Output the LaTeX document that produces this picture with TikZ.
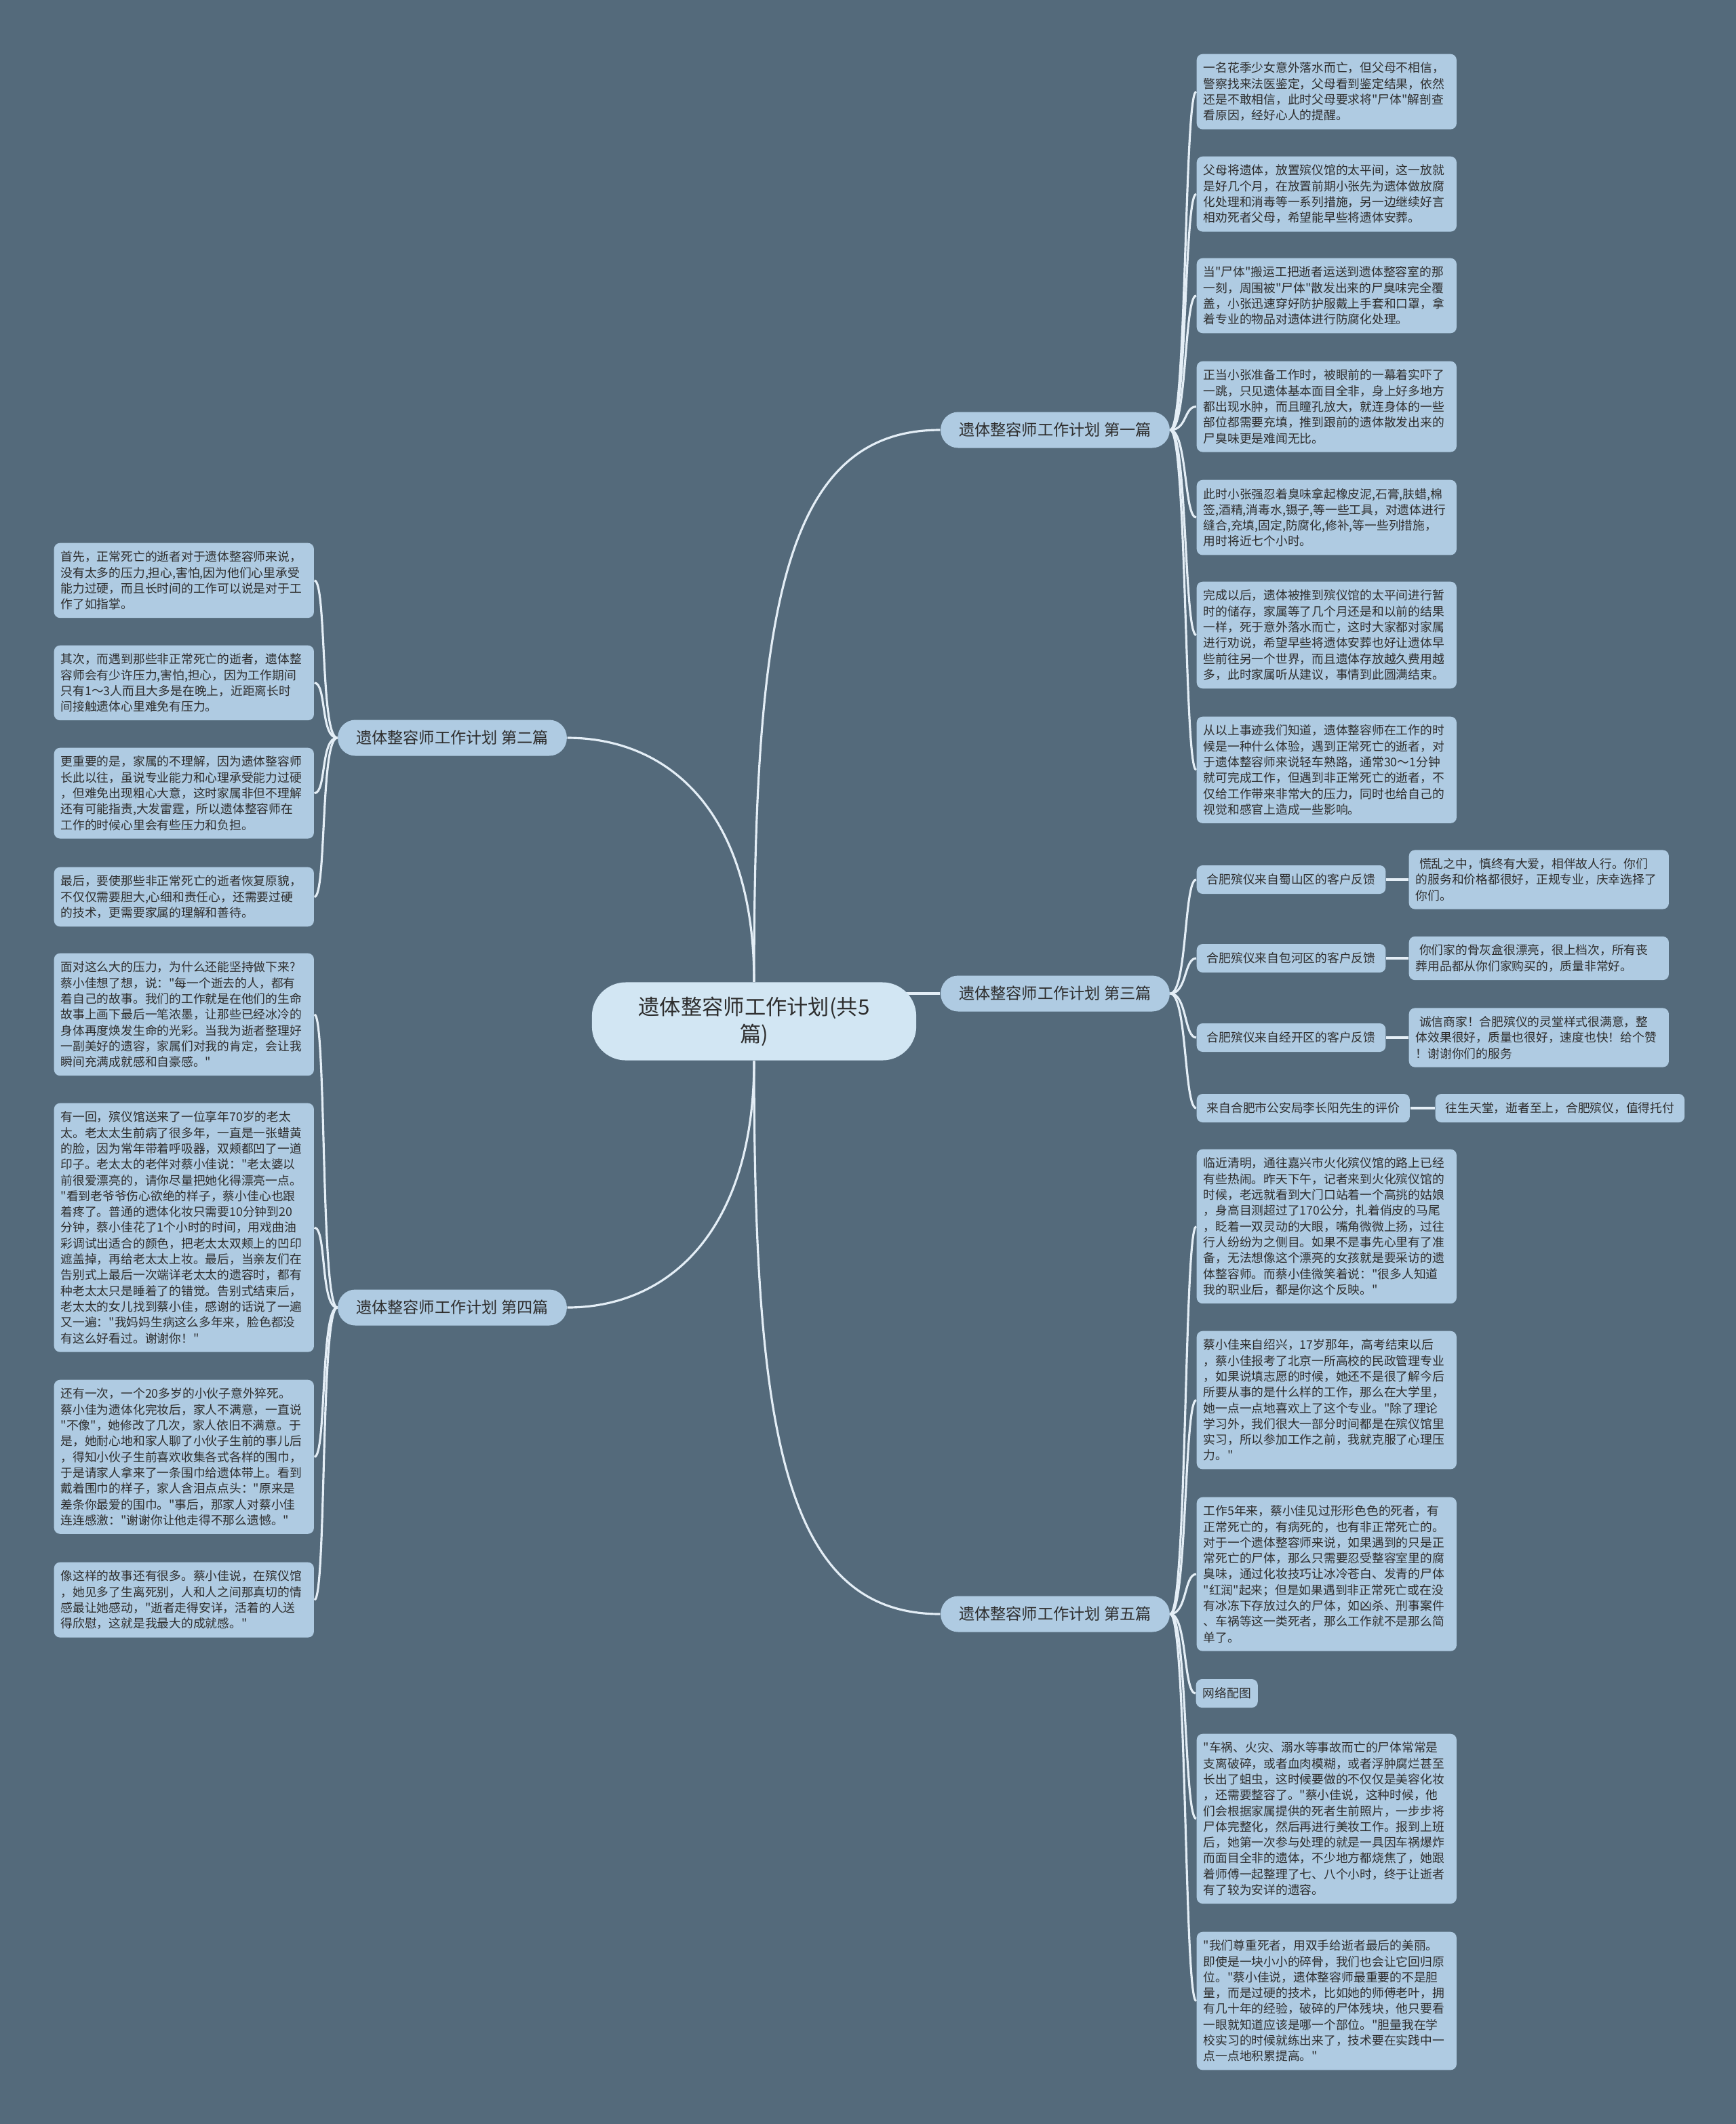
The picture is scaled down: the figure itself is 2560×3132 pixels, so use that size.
\documentclass[tikz,border=0pt]{standalone}
\usepackage{fontspec}
\setmainfont{Noto Sans CJK SC}[Ligatures=TeXOff]
\usepackage{tikz}
\usetikzlibrary{positioning, backgrounds}
\definecolor{slate}{HTML}{546A7B}
\definecolor{leaf}{HTML}{AFCBE2}
\definecolor{core}{HTML}{D2E6F3}
\definecolor{wire}{HTML}{E4EEF6}
\definecolor{ink}{HTML}{2E2E2E}

\begin{document}
\begin{tikzpicture}[x=0.01cm, y=-0.01cm,
    root/.style={rectangle, rounded corners=0.5cm, fill=core, text=ink,
                 font=\fontsize{8.9}{11.3}\selectfont, minimum width=4.78cm,
                 minimum height=1.15cm, align=center},
    topic/.style={rectangle, rounded corners=0.26cm, fill=leaf, text=ink,
                  font=\fontsize{6.6}{8}\selectfont, minimum height=0.53cm, inner xsep=0.27cm},
    note/.style={rectangle, rounded corners=2.5pt, fill=leaf, text=ink,
                 font=\fontsize{5.05}{6.63}\selectfont, text width=3.63cm,
                 inner xsep=0.1cm, inner ysep=0.12cm, align=left, anchor=north west},
    tag/.style={rectangle, rounded corners=2.5pt, fill=leaf, text=ink,
                font=\fontsize{5.05}{6.63}\selectfont, inner xsep=0.15cm,
                minimum height=0.42cm, anchor=west},
    link/.style={draw=wire, line width=0.9pt}
]
\useasboundingbox (0,0) rectangle (2560,3132);

\node[root] (root) at (1112,1506) {遗体整容师工作计划(共5\\篇)};

\node[topic] (p1) at (1556,634) {遗体整容师工作计划 第一篇};
\node[topic] (p2) at (667,1088) {遗体整容师工作计划 第二篇};
\node[topic] (p3) at (1556,1465) {遗体整容师工作计划 第三篇};
\node[topic] (p4) at (667,1928) {遗体整容师工作计划 第四篇};
\node[topic] (p5) at (1556,2380) {遗体整容师工作计划 第五篇};

% 第一篇
\node[note] (p1a) at (1764,79) {一名花季少女意外落水而亡，但父母不相信，\\警察找来法医鉴定，父母看到鉴定结果，依然\\还是不敢相信，此时父母要求将"尸体"解剖查\\看原因，经好心人的提醒。};
\node[note] (p1b) at (1764,230) {父母将遗体，放置殡仪馆的太平间，这一放就\\是好几个月，在放置前期小张先为遗体做放腐\\化处理和消毒等一系列措施，另一边继续好言\\相劝死者父母，希望能早些将遗体安葬。};
\node[note] (p1c) at (1764,380) {当"尸体"搬运工把逝者运送到遗体整容室的那\\一刻，周围被"尸体"散发出来的尸臭味完全覆\\盖，小张迅速穿好防护服戴上手套和口罩，拿\\着专业的物品对遗体进行防腐化处理。};
\node[note] (p1d) at (1764,532) {正当小张准备工作时，被眼前的一幕着实吓了\\一跳，只见遗体基本面目全非，身上好多地方\\都出现水肿，而且瞳孔放大，就连身体的一些\\部位都需要充填，推到跟前的遗体散发出来的\\尸臭味更是难闻无比。};
\node[note] (p1e) at (1764,707) {此时小张强忍着臭味拿起橡皮泥,石膏,肤蜡,棉\\签,酒精,消毒水,镊子,等一些工具，对遗体进行\\缝合,充填,固定,防腐化,修补,等一些列措施，\\用时将近七个小时。};
\node[note] (p1f) at (1764,857) {完成以后，遗体被推到殡仪馆的太平间进行暂\\时的储存，家属等了几个月还是和以前的结果\\一样，死于意外落水而亡，这时大家都对家属\\进行劝说，希望早些将遗体安葬也好让遗体早\\些前往另一个世界，而且遗体存放越久费用越\\多，此时家属听从建议，事情到此圆满结束。};
\node[note] (p1g) at (1764,1056) {从以上事迹我们知道，遗体整容师在工作的时\\候是一种什么体验，遇到正常死亡的逝者，对\\于遗体整容师来说轻车熟路，通常30～1分钟\\就可完成工作，但遇到非正常死亡的逝者，不\\仅给工作带来非常大的压力，同时也给自己的\\视觉和感官上造成一些影响。};

% 第二篇
\node[note] (p2a) at (79,800) {首先，正常死亡的逝者对于遗体整容师来说，\\没有太多的压力,担心,害怕,因为他们心里承受\\能力过硬，而且长时间的工作可以说是对于工\\作了如指掌。};
\node[note] (p2b) at (79,951) {其次，而遇到那些非正常死亡的逝者，遗体整\\容师会有少许压力,害怕,担心，因为工作期间\\只有1～3人而且大多是在晚上，近距离长时\\间接触遗体心里难免有压力。};
\node[note] (p2c) at (79,1102) {更重要的是，家属的不理解，因为遗体整容师\\长此以往，虽说专业能力和心理承受能力过硬\\，但难免出现粗心大意，这时家属非但不理解\\还有可能指责,大发雷霆，所以遗体整容师在\\工作的时候心里会有些压力和负担。};
\node[note] (p2d) at (79,1278) {最后，要使那些非正常死亡的逝者恢复原貌，\\不仅仅需要胆大,心细和责任心，还需要过硬\\的技术，更需要家属的理解和善待。};

% 第三篇
\node[tag] (fb1) at (1764,1297) {合肥殡仪来自蜀山区的客户反馈};
\node[tag] (fb2) at (1764,1413) {合肥殡仪来自包河区的客户反馈};
\node[tag] (fb3) at (1764,1530) {合肥殡仪来自经开区的客户反馈};
\node[tag] (fb4) at (1764,1634) {来自合肥市公安局李长阳先生的评价};
\node[note, anchor=west] (fr1) at (2077,1297) {\hspace*{0.3em}慌乱之中，慎终有大爱，相伴故人行。你们\\的服务和价格都很好，正规专业，庆幸选择了\\你们。};
\node[note, anchor=west] (fr2) at (2077,1413) {\hspace*{0.3em}你们家的骨灰盒很漂亮，很上档次，所有丧\\葬用品都从你们家购买的，质量非常好。};
\node[note, anchor=west] (fr3) at (2077,1530) {\hspace*{0.3em}诚信商家！合肥殡仪的灵堂样式很满意，整\\体效果很好，质量也很好，速度也快！给个赞\\！谢谢你们的服务};
\node[tag] (fr4) at (2116,1634) {往生天堂，逝者至上，合肥殡仪，值得托付};

% 第四篇
\node[note] (p4a) at (79,1405) {面对这么大的压力，为什么还能坚持做下来?\\蔡小佳想了想，说："每一个逝去的人，都有\\着自己的故事。我们的工作就是在他们的生命\\故事上画下最后一笔浓墨，让那些已经冰冷的\\身体再度焕发生命的光彩。当我为逝者整理好\\一副美好的遗容，家属们对我的肯定，会让我\\瞬间充满成就感和自豪感。"};
\node[note] (p4b) at (79,1626) {有一回，殡仪馆送来了一位享年70岁的老太\\太。老太太生前病了很多年，一直是一张蜡黄\\的脸，因为常年带着呼吸器，双颊都凹了一道\\印子。老太太的老伴对蔡小佳说："老太婆以\\前很爱漂亮的，请你尽量把她化得漂亮一点。\\"看到老爷爷伤心欲绝的样子，蔡小佳心也跟\\着疼了。普通的遗体化妆只需要10分钟到20\\分钟，蔡小佳花了1个小时的时间，用戏曲油\\彩调试出适合的颜色，把老太太双颊上的凹印\\遮盖掉，再给老太太上妆。最后，当亲友们在\\告别式上最后一次端详老太太的遗容时，都有\\种老太太只是睡着了的错觉。告别式结束后，\\老太太的女儿找到蔡小佳，感谢的话说了一遍\\又一遍："我妈妈生病这么多年来，脸色都没\\有这么好看过。谢谢你！"};
\node[note] (p4c) at (79,2034) {还有一次，一个20多岁的小伙子意外猝死。\\蔡小佳为遗体化完妆后，家人不满意，一直说\\"不像"，她修改了几次，家人依旧不满意。于\\是，她耐心地和家人聊了小伙子生前的事儿后\\，得知小伙子生前喜欢收集各式各样的围巾，\\于是请家人拿来了一条围巾给遗体带上。看到\\戴着围巾的样子，家人含泪点点头："原来是\\差条你最爱的围巾。"事后，那家人对蔡小佳\\连连感激："谢谢你让他走得不那么遗憾。"};
\node[note] (p4d) at (79,2303) {像这样的故事还有很多。蔡小佳说，在殡仪馆\\，她见多了生离死别，人和人之间那真切的情\\感最让她感动，"逝者走得安详，活着的人送\\得欣慰，这就是我最大的成就感。"};

% 第五篇
\node[note] (p5a) at (1764,1694) {临近清明，通往嘉兴市火化殡仪馆的路上已经\\有些热闹。昨天下午，记者来到火化殡仪馆的\\时候，老远就看到大门口站着一个高挑的姑娘\\，身高目测超过了170公分，扎着俏皮的马尾\\，眨着一双灵动的大眼，嘴角微微上扬，过往\\行人纷纷为之侧目。如果不是事先心里有了准\\备，无法想像这个漂亮的女孩就是要采访的遗\\体整容师。而蔡小佳微笑着说："很多人知道\\我的职业后，都是你这个反映。"};
\node[note] (p5b) at (1764,1962) {蔡小佳来自绍兴，17岁那年，高考结束以后\\，蔡小佳报考了北京一所高校的民政管理专业\\，如果说填志愿的时候，她还不是很了解今后\\所要从事的是什么样的工作，那么在大学里，\\她一点一点地喜欢上了这个专业。"除了理论\\学习外，我们很大一部分时间都是在殡仪馆里\\实习，所以参加工作之前，我就克服了心理压\\力。"};
\node[note] (p5c) at (1764,2207) {工作5年来，蔡小佳见过形形色色的死者，有\\正常死亡的，有病死的，也有非正常死亡的。\\对于一个遗体整容师来说，如果遇到的只是正\\常死亡的尸体，那么只需要忍受整容室里的腐\\臭味，通过化妆技巧让冰冷苍白、发青的尸体\\"红润"起来；但是如果遇到非正常死亡或在没\\有冰冻下存放过久的尸体，如凶杀、刑事案件\\、车祸等这一类死者，那么工作就不是那么简\\单了。};
\node[tag, inner xsep=0.1cm] (p5d) at (1763,2497) {网络配图};
\node[note] (p5e) at (1764,2556) {"车祸、火灾、溺水等事故而亡的尸体常常是\\支离破碎，或者血肉模糊，或者浮肿腐烂甚至\\长出了蛆虫，这时候要做的不仅仅是美容化妆\\，还需要整容了。"蔡小佳说，这种时候，他\\们会根据家属提供的死者生前照片，一步步将\\尸体完整化，然后再进行美妆工作。报到上班\\后，她第一次参与处理的就是一具因车祸爆炸\\而面目全非的遗体，不少地方都烧焦了，她跟\\着师傅一起整理了七、八个小时，终于让逝者\\有了较为安详的遗容。};
\node[note] (p5f) at (1764,2848) {"我们尊重死者，用双手给逝者最后的美丽。\\即使是一块小小的碎骨，我们也会让它回归原\\位。"蔡小佳说，遗体整容师最重要的不是胆\\量，而是过硬的技术，比如她的师傅老叶，拥\\有几十年的经验，破碎的尸体残块，他只要看\\一眼就知道应该是哪一个部位。"胆量我在学\\校实习的时候就练出来了，技术要在实践中一\\点一点地积累提高。"};

\begin{scope}[on background layer]
\fill[slate] (0,0) rectangle (2560,3132);

\draw[link] (root.north) .. controls +(0,-550) and +(-230,0) .. (p1.west);
\draw[link] (root.north) .. controls +(0,-250) and +(150,0) .. (p2.east);
\draw[link] (root.center) -- (root.center |- p3.west) -- (p3.west);
\draw[link] (root.south) .. controls +(0,250) and +(150,0) .. (p4.east);
\draw[link] (root.south) .. controls +(0,550) and +(-230,0) .. (p5.west);

\draw[link] (p1.east) .. controls +(25,0) and +(-18,0) .. (p1a.west);
\draw[link] (p1.east) .. controls +(25,0) and +(-18,0) .. (p1b.west);
\draw[link] (p1.east) .. controls +(25,0) and +(-18,0) .. (p1c.west);
\draw[link] (p1.east) .. controls +(25,0) and +(-18,0) .. (p1d.west);
\draw[link] (p1.east) .. controls +(25,0) and +(-18,0) .. (p1e.west);
\draw[link] (p1.east) .. controls +(25,0) and +(-18,0) .. (p1f.west);
\draw[link] (p1.east) .. controls +(25,0) and +(-18,0) .. (p1g.west);

\draw[link] (p2.west) .. controls +(-25,0) and +(18,0) .. (p2a.east);
\draw[link] (p2.west) .. controls +(-25,0) and +(18,0) .. (p2b.east);
\draw[link] (p2.west) .. controls +(-25,0) and +(18,0) .. (p2c.east);
\draw[link] (p2.west) .. controls +(-25,0) and +(18,0) .. (p2d.east);

\draw[link] (p3.east) .. controls +(25,0) and +(-18,0) .. (fb1.west);
\draw[link] (p3.east) .. controls +(25,0) and +(-18,0) .. (fb2.west);
\draw[link] (p3.east) .. controls +(25,0) and +(-18,0) .. (fb3.west);
\draw[link] (p3.east) .. controls +(25,0) and +(-18,0) .. (fb4.west);
\draw[link] (fb1.east) -- (fr1.west);
\draw[link] (fb2.east) -- (fr2.west);
\draw[link] (fb3.east) -- (fr3.west);
\draw[link] (fb4.east) -- (fr4.west);

\draw[link] (p4.west) .. controls +(-25,0) and +(18,0) .. (p4a.east);
\draw[link] (p4.west) .. controls +(-25,0) and +(18,0) .. (p4b.east);
\draw[link] (p4.west) .. controls +(-25,0) and +(18,0) .. (p4c.east);
\draw[link] (p4.west) .. controls +(-25,0) and +(18,0) .. (p4d.east);

\draw[link] (p5.east) .. controls +(25,0) and +(-18,0) .. (p5a.west);
\draw[link] (p5.east) .. controls +(25,0) and +(-18,0) .. (p5b.west);
\draw[link] (p5.east) .. controls +(25,0) and +(-18,0) .. (p5c.west);
\draw[link] (p5.east) .. controls +(25,0) and +(-18,0) .. (p5d.west);
\draw[link] (p5.east) .. controls +(25,0) and +(-18,0) .. (p5e.west);
\draw[link] (p5.east) .. controls +(25,0) and +(-18,0) .. (p5f.west);
\end{scope}
\end{tikzpicture}
\end{document}
